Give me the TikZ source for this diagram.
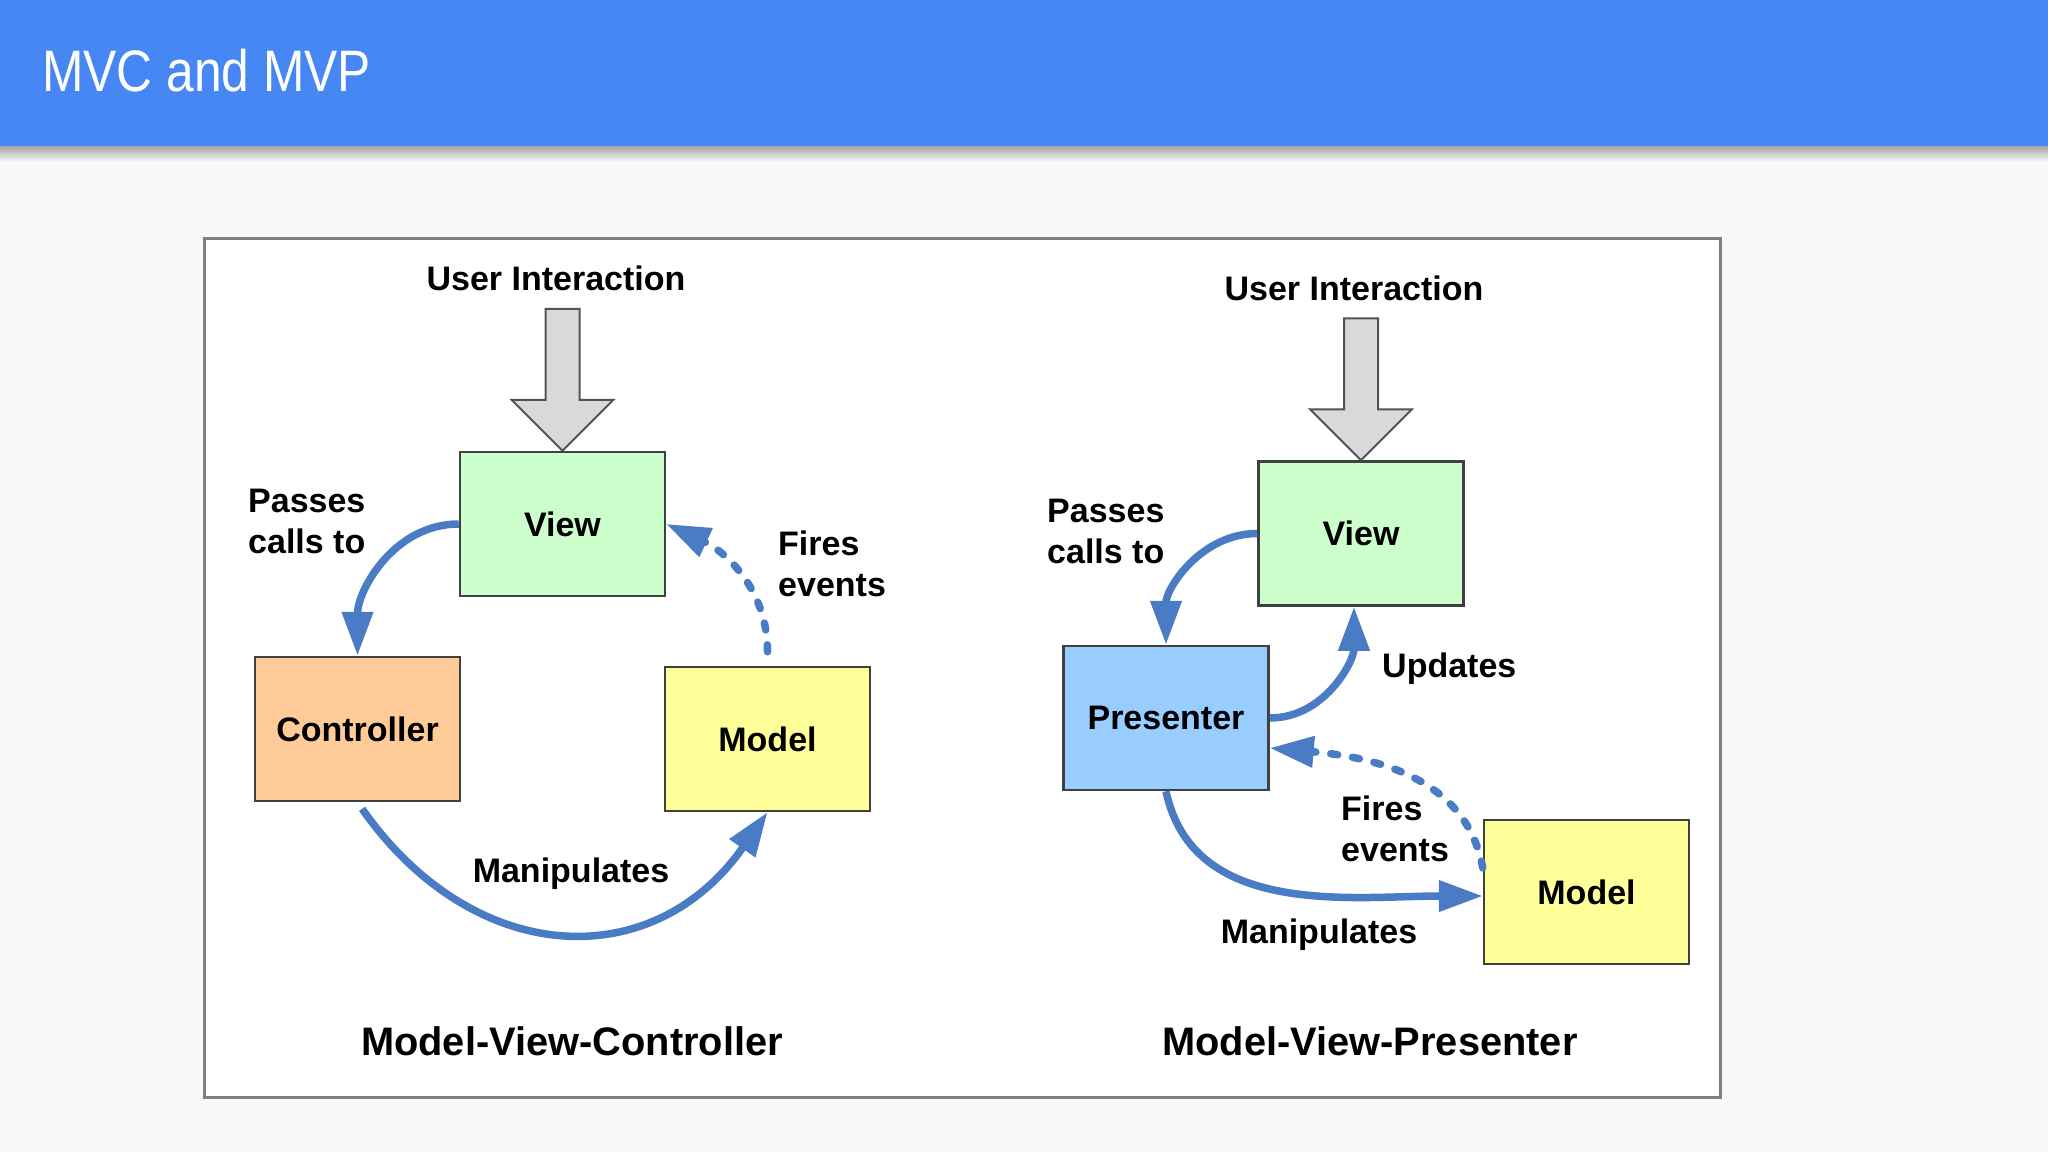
\documentclass[tikz,border=0pt]{standalone}
\usepackage{graphicx}
\usepackage{fontspec}
\setmainfont{Liberation Sans}
\usetikzlibrary{arrows.meta,calc}
\definecolor{hdr}{HTML}{4687F4}
\definecolor{bgc}{HTML}{F9F9FB}
\definecolor{arr}{HTML}{4A7CC6}
\definecolor{vgreen}{HTML}{CCFFCC}
\definecolor{corange}{HTML}{FFCC99}
\definecolor{myellow}{HTML}{FFFF99}
\definecolor{pblue}{HTML}{99CCFF}
\definecolor{uigray}{HTML}{D9D9D9}
\definecolor{edgec}{HTML}{404040}
\definecolor{framec}{HTML}{7F7F7F}
\newcommand\diaglbl{\bfseries\fontsize{34}{41}\selectfont}
\newcommand\diagttl{\bfseries\fontsize{39.8}{46}\selectfont}
\begin{document}
\begin{tikzpicture}[x=1pt,y=1pt,
  box/.style={draw=edgec, line width=2.5pt, minimum width=205pt, minimum height=144pt, inner sep=0pt, font=\diaglbl},
  lbl/.style={inner sep=0pt, font=\diaglbl, align=left},
  ttl/.style={inner sep=0pt, font=\diagttl},
  flow/.style={draw=arr, line width=7.5pt, -{Triangle[length=44pt,width=30pt]}},
  evt/.style={flow, line cap=round, dash pattern=on 7pt off 15pt},
  uiarrow/.style={draw=edgec!90, fill=uigray, line width=2pt, line join=miter}
]
\useasboundingbox (0,0) rectangle (2048,-1152);
\fill[bgc] (0,0) rectangle (2048,-1152);
% header
\shade[top color=black!35, bottom color=bgc] (0,-146) rectangle (2048,-162);
\fill[hdr] (0,0) rectangle (2048,-146);
\node[anchor=base west, inner sep=0pt, text=white, font=\fontsize{58.5}{70}\selectfont] (title) at (42,-91) {\scalebox{0.85}[1]{MVC and MVP}};
% frame
\draw[framec, line width=3pt, fill=white] (204,-238) rectangle (1720,-1097);

% ---------- MVC ----------
\node[box, fill=vgreen] (v1) at (562.5,-524) {View};
\node[box, fill=corange] (c1) at (357.5,-729) {Controller};
\node[box, fill=myellow] (m1) at (767.5,-739) {Model};
\node[lbl, anchor=base] (ui1) at (556,-290) {User Interaction};
\draw[uiarrow] ($(v1.north)+(-17,142)$) -- ($(v1.north)+(17,142)$) -- ($(v1.north)+(17,51)$)
  -- ($(v1.north)+(51,51)$) -- (v1.north) -- ($(v1.north)+(-51,51)$) -- ($(v1.north)+(-17,51)$) -- cycle;
\node[lbl, anchor=west] (pc1) at (248,-521) {Passes\\calls to};
\node[lbl, anchor=west] (fe1) at (778,-564) {Fires\\events};
\node[lbl, anchor=base] (mp1) at (571,-882) {Manipulates};
\node[ttl, anchor=base] (t1) at (572,-1055) {Model-View-Controller};
\draw[flow] (v1.west) to[out=180, in=90] (c1.north);
\draw[evt] ($(m1.north)+(0,14)$) to[out=90, in=-25] (v1.east);
\draw[flow, shorten <=8pt] (c1.south) to[out=-55, in=-125, looseness=1.25] (m1.south);

% ---------- MVP ----------
\node[box, fill=vgreen] (v2) at (1361,-533.5) {View};
\node[box, fill=pblue] (p2) at (1166,-718) {Presenter};
\node[box, fill=myellow] (m2) at (1586.5,-892) {Model};
\node[lbl, anchor=base] (ui2) at (1354,-300) {User Interaction};
\draw[uiarrow] ($(v2.north)+(-17,142)$) -- ($(v2.north)+(17,142)$) -- ($(v2.north)+(17,51)$)
  -- ($(v2.north)+(51,51)$) -- (v2.north) -- ($(v2.north)+(-51,51)$) -- ($(v2.north)+(-17,51)$) -- cycle;
\node[lbl, anchor=west] (pc2) at (1047,-531) {Passes\\calls to};
\node[lbl, anchor=base west] (up2) at (1382,-677) {Updates};
\node[lbl, anchor=west] (fe2) at (1341,-829) {Fires\\events};
\node[lbl, anchor=base] (mp2) at (1319,-943) {Manipulates};
\node[ttl, anchor=base] (t2) at (1370,-1055) {Model-View-Presenter};
\draw[flow] (v2.west) to[out=180, in=90] (p2.north);
\draw[flow] (p2.east) to[out=0, in=-90] ($(v2.south)+(-7,0)$);
\draw[evt] ($(m2.west)+(0,24)$) to[out=100, in=-5] ($(p2.east)+(0,-30)$);
\draw[flow] (p2.south) to[out=-78, in=180] ($(m2.west)+(0,-4)$);
\end{tikzpicture}
\end{document}
